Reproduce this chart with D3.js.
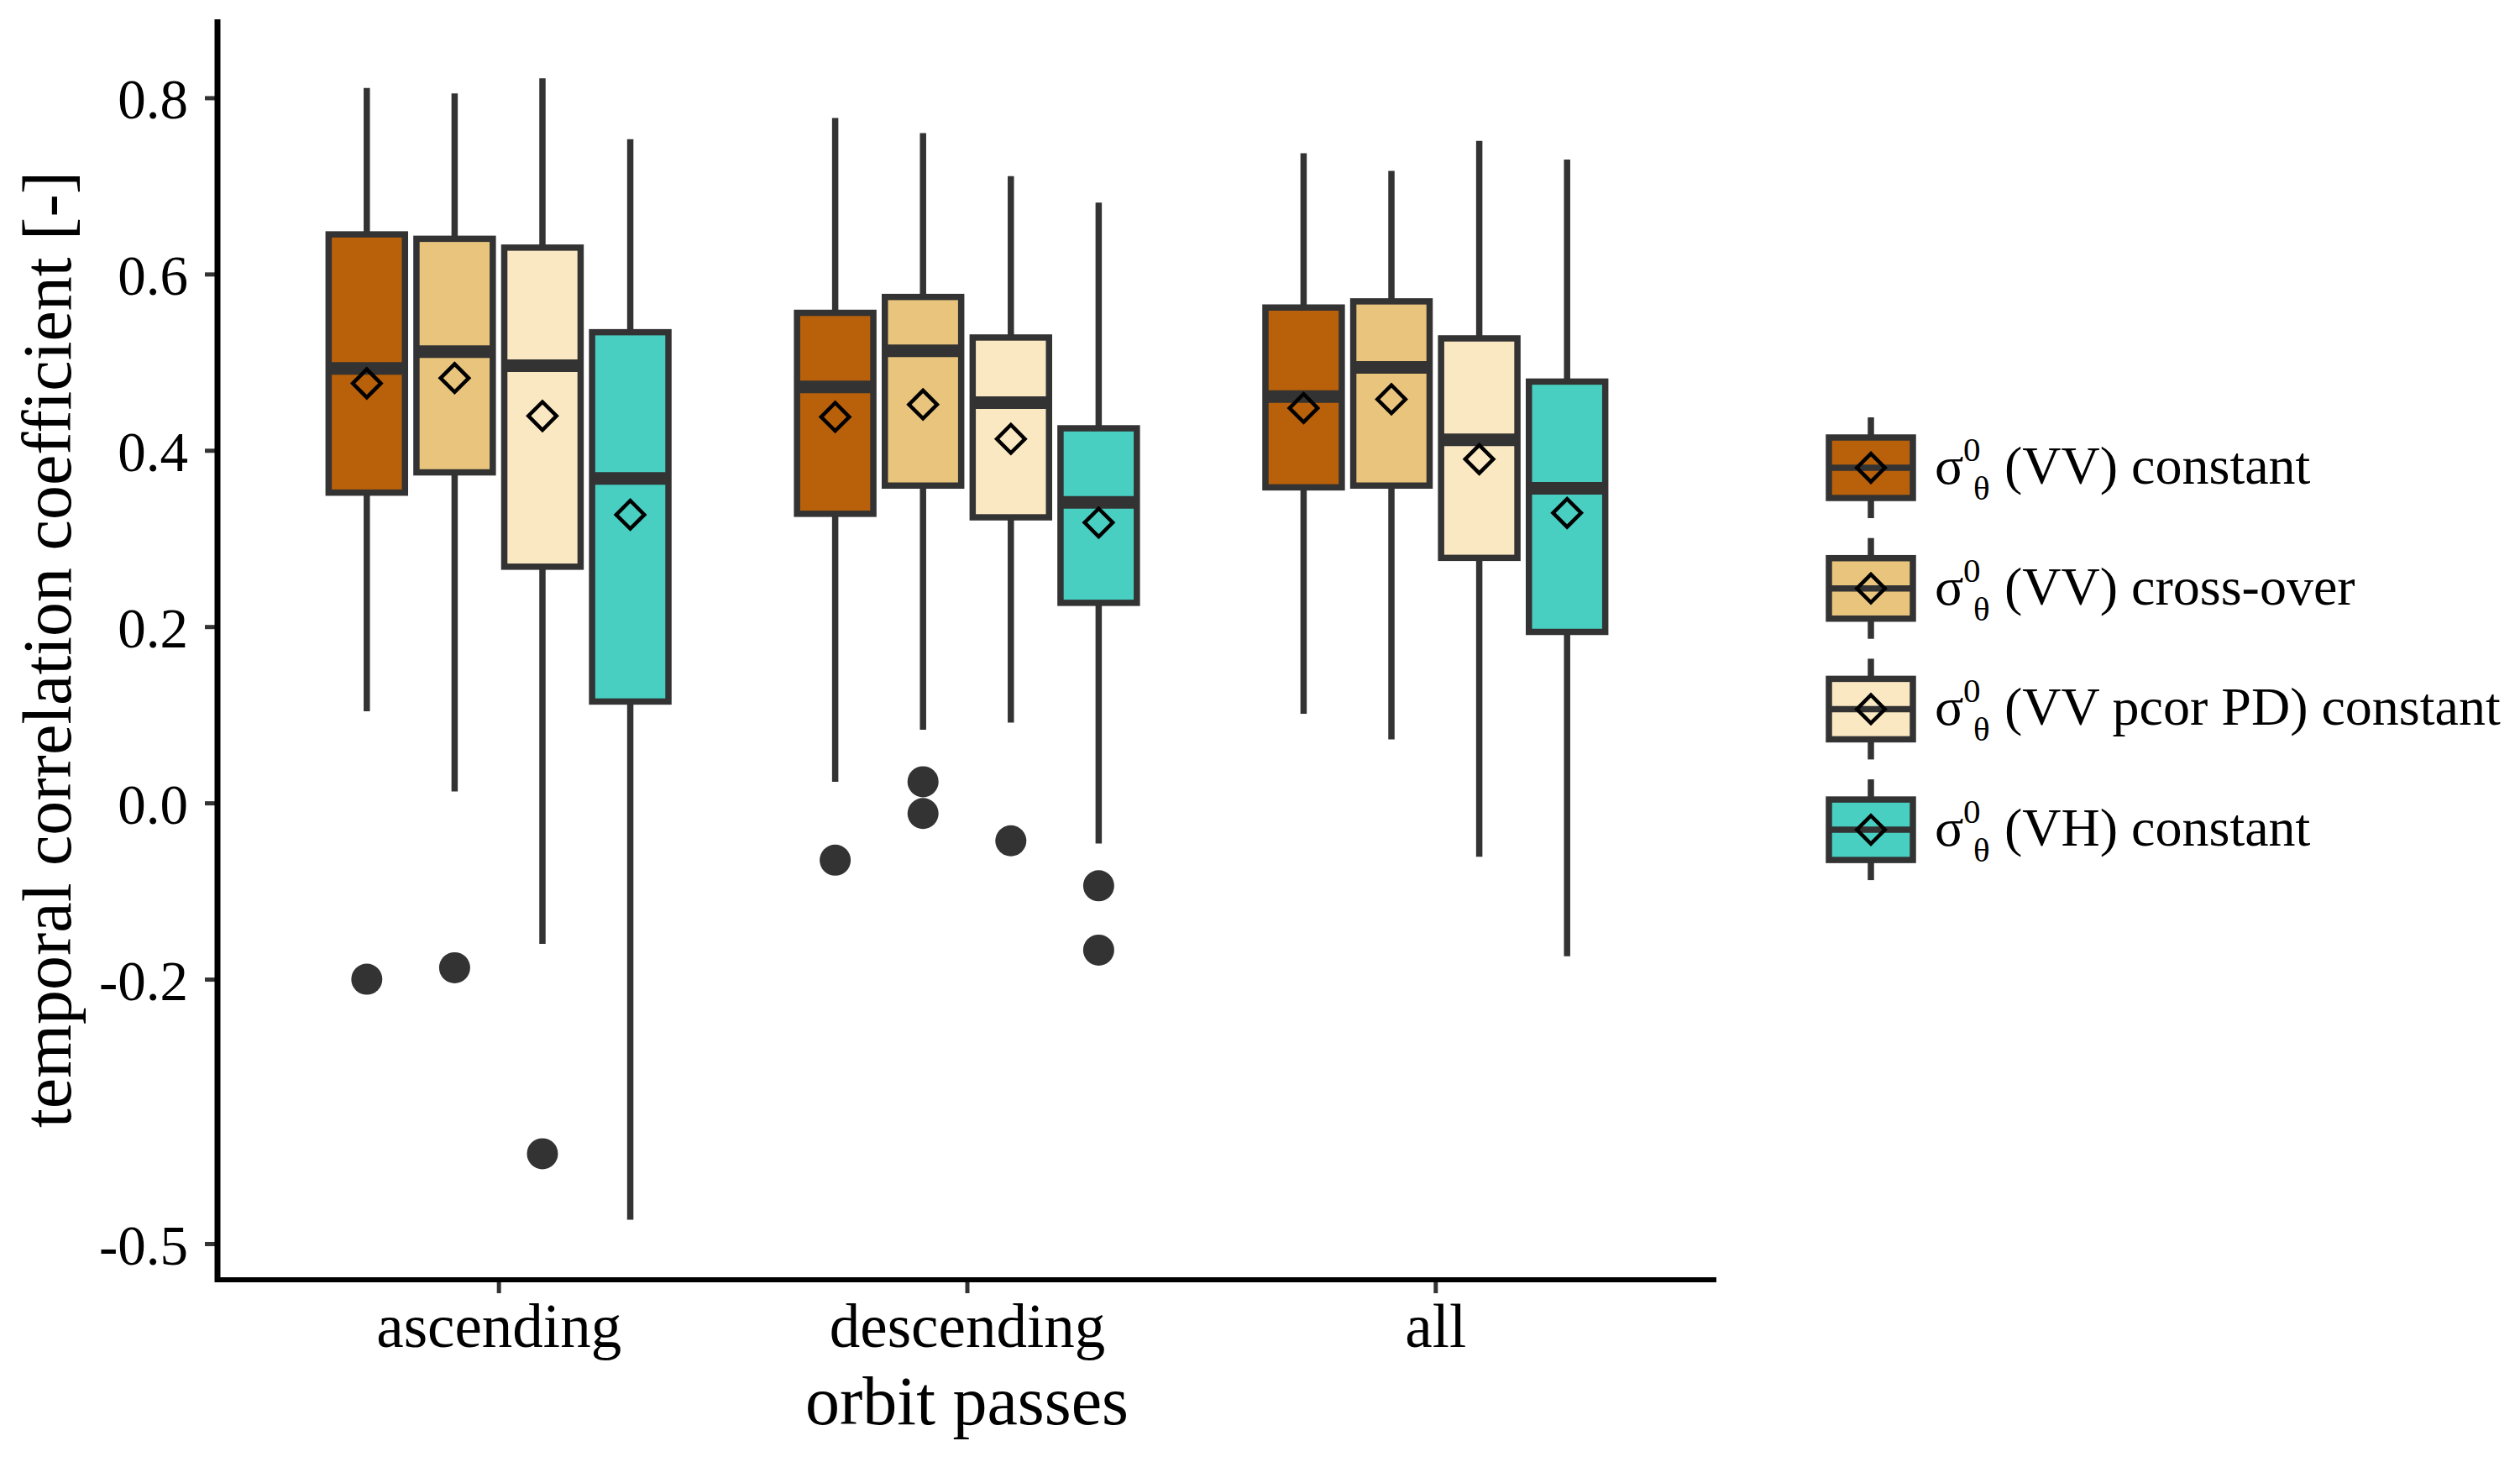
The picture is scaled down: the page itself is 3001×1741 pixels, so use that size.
<!DOCTYPE html>
<html>
<head>
<meta charset="utf-8">
<script src="https://cdn.jsdelivr.net/npm/d3@7"></script>
<style>
  body { margin: 0; background: #fff; }
  text { font-family: "Liberation Serif", "DejaVu Serif", serif; fill: #000; }
</style>
</head>
<body>
<div id="chart"></div>
<script>
var W = 3001, H = 1741;
var margin = {top: 23, right: 957, bottom: 217, left: 259},
    width = W - margin.left - margin.right,
    height = H - margin.top - margin.bottom;

// categories on the x axis
var groups = ["ascending", "descending", "all"];
// series (legend order)
var seriesLabels = ["(VV) constant", "(VV) cross-over", "(VV pcor PD) constant", "(VH) constant"];
var seriesColors = ["#b8600a", "#e8c47d", "#fae8c3", "#48cfc2"];

// box statistics, [series][group]
var whiskerLow = [
  [0.104, 0.024, 0.101],
  [0.013, 0.083, 0.072],
  [-0.160, 0.091, -0.061],
  [-0.473, -0.046, -0.174]];
var q1 = [
  [0.352, 0.328, 0.358],
  [0.375, 0.360, 0.360],
  [0.268, 0.324, 0.278],
  [0.115, 0.227, 0.194]];
var median = [
  [0.493, 0.472, 0.461],
  [0.512, 0.513, 0.494],
  [0.496, 0.454, 0.412],
  [0.368, 0.341, 0.357]];
var q3 = [
  [0.645, 0.556, 0.562],
  [0.640, 0.574, 0.569],
  [0.630, 0.528, 0.527],
  [0.534, 0.425, 0.478]];
var whiskerHigh = [
  [0.811, 0.777, 0.737],
  [0.805, 0.760, 0.717],
  [0.822, 0.711, 0.751],
  [0.753, 0.681, 0.730]];
var means = [
  [0.476, 0.438, 0.448],
  [0.482, 0.452, 0.458],
  [0.439, 0.413, 0.390],
  [0.327, 0.318, 0.329]];
var outliers = [
  [[-0.200], [-0.065], []],
  [[-0.187], [0.024, -0.012], []],
  [[-0.398], [-0.043], []],
  [[], [-0.094, -0.167], []]];

var yTicks = [0.8, 0.6, 0.4, 0.2, 0.0, -0.2, -0.5];

var boxColor = "#333333";
var lineW = 7.5;

var svg = d3.select("#chart").append("svg")
    .attr("width", W)
    .attr("height", H)
  .append("g")
    .attr("transform", "translate(" + margin.left + "," + margin.top + ")");

var x = d3.scalePoint()
    .domain(groups)
    .range([0, width])
    .padding(0.6);
var y = d3.scaleLinear()
    .domain([-0.541, 0.889])
    .range([height, 0]);

var step = x.step();
var dodge = 0.1875 * step;
var boxW = 0.163 * step;

// flatten into one record per box
var boxes = [];
seriesLabels.forEach((s, i) => {
  groups.forEach((g, j) => {
    boxes.push({
      s: i, g: g,
      cx: x(g) + (i - 1.5) * dodge,
      lo: whiskerLow[i][j], q1: q1[i][j], med: median[i][j],
      q3: q3[i][j], hi: whiskerHigh[i][j], mean: means[i][j],
      out: outliers[i][j]
    });
  });
});

// axes
var yAxis = d3.axisLeft(y).tickValues(yTicks).tickSize(15).tickPadding(20)
    .tickFormat(d => d.toFixed(1));
var xAxis = d3.axisBottom(x).tickSize(16).tickPadding(12);

var gy = svg.append("g").attr("class", "y axis").call(yAxis);
gy.select(".domain").remove();
gy.selectAll(".tick line").attr("stroke", boxColor).attr("stroke-width", 5);
gy.selectAll(".tick text").style("font-size", "67px").attr("fill", "#000")
    .attr("dy", "0.36em");

var gx = svg.append("g").attr("class", "x axis")
    .attr("transform", "translate(0," + height + ")").call(xAxis);
gx.select(".domain").remove();
gx.selectAll(".tick line").attr("stroke", boxColor).attr("stroke-width", 5);
gx.selectAll(".tick text").style("font-size", "73px").attr("fill", "#000");

// axis lines
svg.append("line").attr("x1", 0).attr("x2", 0).attr("y1", 0).attr("y2", height + 3)
    .attr("stroke", "#000").attr("stroke-width", 7);
svg.append("line").attr("x1", -3).attr("x2", width).attr("y1", height).attr("y2", height)
    .attr("stroke", "#000").attr("stroke-width", 6);

// whiskers
svg.selectAll(".whisker")
    .data(boxes)
    .enter().append("line")
    .attr("class", "whisker")
    .attr("x1", d => d.cx).attr("x2", d => d.cx)
    .attr("y1", d => y(d.lo)).attr("y2", d => y(d.hi))
    .attr("stroke", boxColor).attr("stroke-width", lineW);

// boxes
svg.selectAll(".box")
    .data(boxes)
    .enter().append("rect")
    .attr("class", "box")
    .attr("x", d => d.cx - boxW / 2)
    .attr("width", boxW)
    .attr("y", d => y(d.q3))
    .attr("height", d => y(d.q1) - y(d.q3))
    .style("fill", d => seriesColors[d.s])
    .attr("stroke", boxColor).attr("stroke-width", lineW);

// medians
svg.selectAll(".median")
    .data(boxes)
    .enter().append("line")
    .attr("class", "median")
    .attr("x1", d => d.cx - boxW / 2).attr("x2", d => d.cx + boxW / 2)
    .attr("y1", d => y(d.med)).attr("y2", d => y(d.med))
    .attr("stroke", boxColor).attr("stroke-width", 15);

// outliers
var outPts = [];
boxes.forEach(b => b.out.forEach(v => outPts.push({cx: b.cx, v: v})));
svg.selectAll(".outlier")
    .data(outPts)
    .enter().append("circle")
    .attr("class", "outlier")
    .attr("cx", d => d.cx).attr("cy", d => y(d.v))
    .attr("r", 18.5)
    .style("fill", boxColor);

// mean diamonds
var diamond = d3.symbol().type(d3.symbolSquare).size(560);
svg.selectAll(".mean")
    .data(boxes)
    .enter().append("path")
    .attr("class", "mean")
    .attr("d", diamond)
    .attr("transform", d => "translate(" + d.cx + "," + y(d.mean) + ") rotate(45)")
    .style("fill", "none")
    .attr("stroke", "#000").attr("stroke-width", 4.5);

// axis titles
svg.append("text")
    .attr("transform", "rotate(-90)")
    .attr("x", -height / 2)
    .attr("y", 84 - margin.left)
    .style("text-anchor", "middle")
    .style("font-size", "82px")
    .text("temporal correlation coefficient [-]");

svg.append("text")
    .attr("x", width / 2)
    .attr("y", 1696 - margin.top)
    .style("text-anchor", "middle")
    .style("font-size", "82px")
    .text("orbit passes");

// legend
var legend = svg.append("g")
    .attr("transform", "translate(" + (2228 - margin.left) + "," + (557 - margin.top) + ")");
var keyStep = 143.7;
var item = legend.selectAll(".legend")
    .data(seriesLabels)
    .enter().append("g")
    .attr("class", "legend")
    .attr("transform", (d, i) => "translate(0," + i * keyStep + ")");

item.append("line")
    .attr("x1", 0).attr("x2", 0).attr("y1", -60).attr("y2", 60)
    .attr("stroke", boxColor).attr("stroke-width", lineW);
item.append("rect")
    .attr("x", -50).attr("width", 100)
    .attr("y", -36).attr("height", 72)
    .style("fill", (d, i) => seriesColors[i])
    .attr("stroke", boxColor).attr("stroke-width", lineW);
item.append("line")
    .attr("x1", -50).attr("x2", 50).attr("y1", 0).attr("y2", 0)
    .attr("stroke", boxColor).attr("stroke-width", lineW);
item.append("path")
    .attr("d", diamond)
    .attr("transform", "rotate(45)")
    .style("fill", "none")
    .attr("stroke", "#000").attr("stroke-width", 4.5);

var tx = 2304 - 2228;
item.append("text")
    .attr("x", tx).attr("y", 19)
    .style("font-size", "64px")
    .text("σ");
item.append("text")
    .attr("x", tx + 34).attr("y", -8)
    .style("font-size", "41px")
    .text("0");
item.append("text")
    .attr("x", tx + 46).attr("y", 38)
    .style("font-size", "41px")
    .text("θ");
item.append("text")
    .attr("x", 2387 - 2228).attr("y", 19)
    .style("font-size", "64px")
    .text(d => d);
</script>
</body>
</html>
